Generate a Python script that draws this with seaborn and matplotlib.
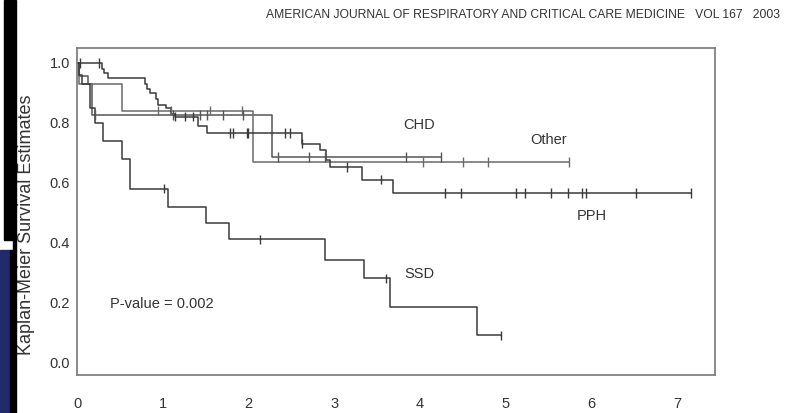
import numpy as np
import pandas as pd
import matplotlib
matplotlib.use("Agg")
import matplotlib.pyplot as plt
from matplotlib.patches import Rectangle
import seaborn as sns

# ----------------------
# Kaplan-Meier step points (time in years, survival)
# ----------------------
chd_t = [0, 0.02, 0.13, 0.18, 2.27, 4.25]
chd_s = [1.0, 0.955, 0.93, 0.826, 0.686, 0.686]
chd_cens = [0.21, 1.12, 1.43, 1.52, 1.70, 1.93, 2.34, 2.71, 2.89, 3.84, 4.25]

other_t = [0, 0.02, 0.53, 2.05, 5.74]
other_s = [1.0, 0.93, 0.84, 0.669, 0.669]
other_cens = [0.94, 1.10, 1.55, 1.92, 4.03, 4.50, 4.79, 5.74]

pph_t = [0, 0.29, 0.31, 0.36, 0.79, 0.82, 0.85, 0.92, 0.94, 1.04, 1.10, 1.14,
         1.41, 1.52, 2.62, 2.83, 2.90, 2.95, 3.32, 3.68, 7.16]
pph_s = [1.0, 0.98, 0.965, 0.95, 0.93, 0.913, 0.90, 0.88, 0.86, 0.85, 0.83, 0.82,
         0.79, 0.766, 0.73, 0.71, 0.675, 0.652, 0.61, 0.565, 0.565]
pph_cens = [0.04, 0.26, 1.14, 1.26, 1.35, 1.78, 1.82, 1.98, 1.99, 2.42, 2.48, 2.62,
            3.15, 3.55, 4.29, 4.48, 5.12, 5.23, 5.53, 5.72, 5.89, 5.94, 6.52, 7.16]

ssd_t = [0, 0.02, 0.06, 0.15, 0.21, 0.30, 0.53, 0.615, 1.06, 1.51, 1.77,
         2.89, 3.35, 3.65, 4.66, 4.95]
ssd_s = [1.0, 0.96, 0.93, 0.85, 0.80, 0.74, 0.68, 0.58, 0.52, 0.465, 0.41,
         0.34, 0.28, 0.184, 0.09, 0.09]
ssd_cens = [1.02, 2.13, 3.60, 4.95]

groups = ["CHD", "Other", "PPH", "SSD"]
x_ticks = [0, 1, 2, 3, 4, 5, 6, 7]
y_ticks = [0.0, 0.2, 0.4, 0.6, 0.8, 1.0]
header = "AMERICAN JOURNAL OF RESPIRATORY AND CRITICAL CARE MEDICINE   VOL 167   2003"

# ----------------------
# long tables for seaborn
# ----------------------
curves = {"CHD": (chd_t, chd_s, chd_cens), "Other": (other_t, other_s, other_cens),
          "PPH": (pph_t, pph_s, pph_cens), "SSD": (ssd_t, ssd_s, ssd_cens)}

line_rows, cens_rows = [], []
for g, (t, s, c) in curves.items():
    for ti, si in zip(t, s):
        line_rows.append({"group": g, "time": ti, "surv": si})
    for ci in c:
        idx = np.searchsorted(t, ci, side="right") - 1
        cens_rows.append({"group": g, "time": ci, "surv": s[idx]})
lines = pd.DataFrame(line_rows)
cens = pd.DataFrame(cens_rows)

palette = {"CHD": "#555555", "Other": "#6a6a6a", "PPH": "#3a3a3a", "SSD": "#3a3a3a"}

# ----------------------
# figure
# ----------------------
sns.set_style("white")
plt.rcParams["font.family"] = ["Liberation Sans", "DejaVu Sans"]

fig = plt.figure(figsize=(7.88, 4.13), dpi=100)
ax = fig.add_axes([77 / 788, 1 - 375 / 413, 638 / 788, 327 / 413])

sns.lineplot(data=lines, x="time", y="surv", hue="group", palette=palette,
             estimator=None, sort=False, drawstyle="steps-post", linewidth=1.1,
             legend=False, ax=ax)
sns.scatterplot(data=cens, x="time", y="surv", hue="group", palette=palette,
                marker="|", s=45, linewidth=1.0, legend=False, ax=ax, zorder=3)

ax.set_xlim(0, 7.44)
ax.set_ylim(-0.043, 1.05)
ax.set_xticks(x_ticks)
ax.set_yticks(y_ticks)
ax.set_yticklabels([f"{v:.1f}" for v in y_ticks])
ax.set_xlabel("")
ax.set_ylabel("Kaplan-Meier Survival Estimates", fontsize=13, color="#333333")
ax.yaxis.set_label_coords(-0.066, 0.46)
ax.tick_params(axis="both", direction="out", length=3, width=0.8, color="#666666",
               labelsize=10.5, labelcolor="#333333")
ax.tick_params(axis="x", pad=13)
ax.tick_params(axis="y", pad=2)
for sp in ax.spines.values():
    sp.set_color("#777777")
    sp.set_linewidth(1.2)

# group labels and p-value
txt = dict(fontsize=10.5, color="#333333", ha="center", va="center")
ax.text(3.99, 0.793, "CHD", **txt)
ax.text(5.50, 0.742, "Other", **txt)
ax.text(6.00, 0.49, "PPH", **txt)
ax.text(3.99, 0.294, "SSD", **txt)
ax.text(0.38, 0.194, "P-value = 0.002", fontsize=10.5, color="#333333", ha="left", va="center")

# journal header
fig.text(780 / 788, 1 - 15 / 413, header, fontsize=8.7, color="#333333", ha="right", va="center")

# slide background strips on the left edge
H = 413
def px_rect(x0, y0, x1, y1, color):
    fig.patches.append(Rectangle((x0 / 788, 1 - y1 / H), (x1 - x0) / 788, (y1 - y0) / H,
                                 transform=fig.transFigure, color=color, zorder=0))
px_rect(4, 0, 16, 240, "black")
px_rect(13, 240, 16, 250, "black")
px_rect(0, 250, 10, 413, "#232a6b")
px_rect(10, 250, 16, 413, "black")

fig.savefig("out.png", dpi=100)
plt.close(fig)
